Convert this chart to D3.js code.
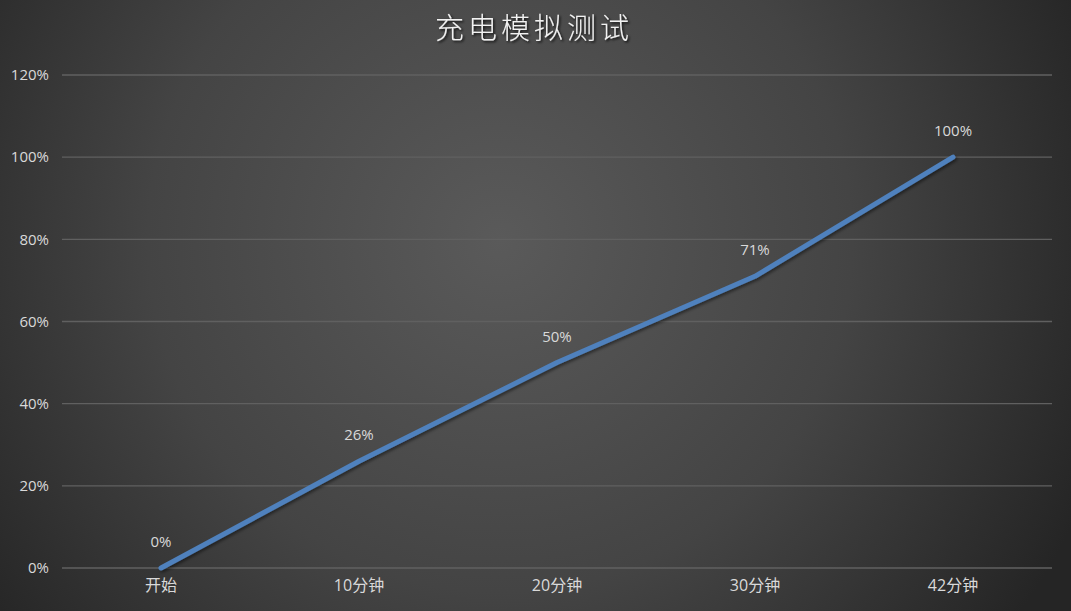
<!DOCTYPE html>
<html><head><meta charset="utf-8">
<script src="https://cdn.jsdelivr.net/npm/d3@7"></script>
<style>html,body{margin:0;padding:0;background:#2b2b2b;}svg{display:block;}</style>
</head><body>
<svg id="chart" width="1071" height="611"></svg>
<script>
const title = "充电模拟测试";
const categories = ["开始", "10分钟", "20分钟", "30分钟", "42分钟"];
const values = [0, 0.26, 0.50, 0.71, 1.00];
const yTicks = [0, 0.2, 0.4, 0.6, 0.8, 1.0, 1.2];

const W = 1071, H = 611;
const margin = {left: 62, right: 19, top: 75, bottom: 43};
const svg = d3.select("#chart");
const defs = svg.append("defs");
const grad = defs.append("radialGradient").attr("id", "bg")
  .attr("gradientUnits", "userSpaceOnUse")
  .attr("cx", 500).attr("cy", 240).attr("r", 640);
grad.append("stop").attr("offset", "0%").attr("stop-color", "#5a5a5a");
grad.append("stop").attr("offset", "55%").attr("stop-color", "#444444");
grad.append("stop").attr("offset", "100%").attr("stop-color", "#252525");
const sh = defs.append("filter").attr("id", "shadow").attr("x", "-10%").attr("y", "-10%").attr("width", "120%").attr("height", "120%");
sh.append("feDropShadow").attr("dx", 1.5).attr("dy", 2).attr("stdDeviation", 1.5).attr("flood-color", "#000").attr("flood-opacity", 0.45);
const tsh = defs.append("filter").attr("id", "tshadow");
tsh.append("feDropShadow").attr("dx", 1.5).attr("dy", 1.5).attr("stdDeviation", 0.8).attr("flood-color", "#000").attr("flood-opacity", 0.8);

svg.append("rect").attr("width", W).attr("height", H).attr("fill", "url(#bg)");

const x = d3.scaleBand().domain(categories).range([margin.left, W - margin.right]);
const y = d3.scaleLinear().domain([0, 1.2]).range([H - margin.bottom, margin.top]);

// gridlines
svg.append("g").selectAll("line").data(yTicks).join("line")
  .attr("x1", margin.left).attr("x2", W - margin.right)
  .attr("y1", d => y(d)).attr("y2", d => y(d))
  .attr("stroke", "#606060").attr("stroke-width", 1.3);

// y axis
const yAxis = svg.append("g").attr("transform", `translate(${margin.left},0)`)
  .call(d3.axisLeft(y).tickValues(yTicks).tickFormat(d3.format(".0%")).tickSize(0).tickPadding(13));
yAxis.select(".domain").remove();
yAxis.selectAll("text").attr("fill", "#d9d9d9").style("font-family", "'Open Sans', 'Noto Sans', sans-serif").style("font-size", "15px");

// x axis
const xAxis = svg.append("g").attr("transform", `translate(0,${H - margin.bottom})`)
  .call(d3.axisBottom(x).tickSize(0).tickPadding(12));
xAxis.select(".domain").remove();
xAxis.selectAll("text").attr("fill", "#d9d9d9").style("font-family", "'Open Sans', 'Noto Sans CJK SC', sans-serif").style("font-size", "16px");

// line
const cx = d => x(d) + x.bandwidth() / 2;
const line = d3.line().x((d, i) => cx(categories[i])).y(d => y(d));
svg.append("path").datum(values).attr("d", line)
  .attr("fill", "none").attr("stroke", "#4f81bd").attr("stroke-width", 5)
  .attr("stroke-linecap", "round").attr("stroke-linejoin", "round")
  .attr("filter", "url(#shadow)");

// data labels
svg.append("g").selectAll("text").data(values).join("text")
  .attr("x", (d, i) => cx(categories[i]))
  .attr("y", d => y(d) - 21)
  .attr("text-anchor", "middle")
  .attr("fill", "#d9d9d9")
  .style("font-family", "'Open Sans', 'Noto Sans', sans-serif").style("font-size", "15px")
  .text(d => d3.format(".0%")(d));

// title
svg.append("text").attr("x", 534).attr("y", 39).attr("text-anchor", "middle")
  .attr("fill", "#f2f2f2").attr("filter", "url(#tshadow)")
  .style("font-family", "'Noto Sans CJK SC', sans-serif").style("font-size", "29px").style("font-weight", 300)
  .style("letter-spacing", "4px")
  .text(title);
</script>
</body></html>
